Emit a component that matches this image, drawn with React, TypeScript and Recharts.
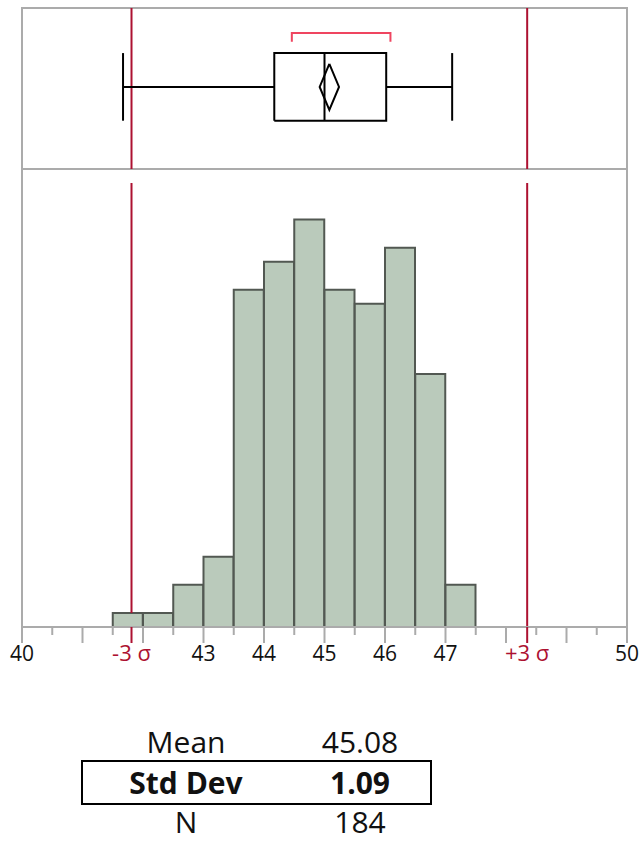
import React from "react";
import {
  ComposedChart,
  Bar,
  Line,
  XAxis,
  YAxis,
  ReferenceLine,
  ReferenceArea,
} from "recharts";

// histogram bins (start of each 0.5 wide bin) and counts
const binStarts = [
  40, 40.5, 41, 41.5, 42, 42.5, 43, 43.5, 44, 44.5,
  45, 45.5, 46, 46.5, 47, 47.5, 48, 48.5, 49, 49.5,
];
const binCounts = [0, 0, 0, 1, 1, 3, 5, 24, 26, 29, 24, 23, 27, 18, 3, 0, 0, 0, 0, 0];
const BIN_WIDTH = 0.5;

// summary statistics
const MEAN = 45.08;
const STD_DEV = 1.09;
const N = 184;

// box plot
const WHISKER_LOW = 41.67;
const Q1 = 44.17;
const MEDIAN = 45.0;
const Q3 = 46.02;
const WHISKER_HIGH = 47.11;
const MEAN_CI = [44.92, 45.24];
const SHORTEST_HALF = [44.46, 46.09];

// axis
const majorTicks = [40, 41, 42, 43, 44, 45, 46, 47, 48, 49, 50];
const minorTicks = [40.5, 41.5, 42.5, 43.5, 44.5, 45.5, 46.5, 47.5, 48.5, 49.5];
const labeledTicks = [40, 43, 44, 45, 46, 47, 50];

const SIGMA_LOW = +(MEAN - 3 * STD_DEV).toFixed(2);
const SIGMA_HIGH = +(MEAN + 3 * STD_DEV).toFixed(2);
const sigmaMarks = [
  { value: SIGMA_LOW, label: "-3 σ" },
  { value: SIGMA_HIGH, label: "+3 σ" },
];

const statRows = [
  { label: "Mean", value: MEAN.toFixed(2), bold: false },
  { label: "Std Dev", value: STD_DEV.toFixed(2), bold: true },
  { label: "N", value: String(N), bold: false },
];

const histData = binStarts.map((start, i) => ({ center: start + BIN_WIDTH / 2, count: binCounts[i] }));
const axisTicks = [...majorTicks, ...minorTicks, SIGMA_LOW, SIGMA_HIGH].sort((a, b) => a - b);

// the sigma lines run behind the bars, so stop them at the top of the bar they cross
const countAt = (v: number) => {
  const i = binStarts.findIndex((s) => v >= s && v < s + BIN_WIDTH);
  return i >= 0 ? binCounts[i] : 0;
};

const FONT = "'Open Sans', 'Noto Sans', sans-serif";
const RED = "#ad1131";
const BRACKET = "#ef4560";
const FRAME = "#ababab";
const BAR_FILL = "#bacabb";
const BAR_STROKE = "#525852";

// vertical layout of the box plot panel (0..1)
const BOX_MID = 0.51;
const BOX_LO = 0.3;
const BOX_HI = 0.72;
const DIA_LO = 0.367;
const DIA_HI = 0.653;
const BRACKET_Y = 0.845;
const BRACKET_END = 0.79;

const pt = (x: number, y: number) => ({ x, y });

const boxSegments = [
  [pt(WHISKER_LOW, BOX_MID), pt(Q1, BOX_MID)],
  [pt(Q3, BOX_MID), pt(WHISKER_HIGH, BOX_MID)],
  [pt(WHISKER_LOW, BOX_LO), pt(WHISKER_LOW, BOX_HI)],
  [pt(WHISKER_HIGH, BOX_LO), pt(WHISKER_HIGH, BOX_HI)],
  [pt(Q1, BOX_LO), pt(Q3, BOX_LO), pt(Q3, BOX_HI), pt(Q1, BOX_HI), pt(Q1, BOX_LO)],
  [pt(MEDIAN, BOX_LO), pt(MEDIAN, BOX_HI)],
  [pt(MEAN, DIA_HI), pt(MEAN_CI[1], BOX_MID), pt(MEAN, DIA_LO), pt(MEAN_CI[0], BOX_MID), pt(MEAN, DIA_HI)],
];
const bracketPoints = [
  pt(SHORTEST_HALF[0], BRACKET_END),
  pt(SHORTEST_HALF[0], BRACKET_Y),
  pt(SHORTEST_HALF[1], BRACKET_Y),
  pt(SHORTEST_HALF[1], BRACKET_END),
];

function AxisTick(props: any) {
  const { x, y, payload } = props;
  const v = payload.value as number;
  const sigma = sigmaMarks.find((s) => Math.abs(s.value - v) < 1e-6);
  if (sigma) {
    return (
      <g>
        <line x1={x} x2={x} y1={y} y2={y + 16} stroke={RED} strokeWidth={2} />
        <text x={x} y={y + 34} textAnchor="middle" fill={RED} fontSize={22} fontFamily={FONT}>
          {sigma.label}
        </text>
      </g>
    );
  }
  const major = Number.isInteger(v);
  return (
    <g>
      <line x1={x} x2={x} y1={y} y2={y + (major ? 16 : 8)} stroke={FRAME} strokeWidth={2} />
      {labeledTicks.includes(v) && (
        <text x={x} y={y + 34} textAnchor="middle" fill="#111" fontSize={21} fontFamily={FONT}>
          {v}
        </text>
      )}
    </g>
  );
}

function BoxPlot() {
  return (
    <ComposedChart width={643} height={175} margin={{ top: 8, right: 16, bottom: 6, left: 22 }}>
      <XAxis type="number" dataKey="x" domain={[40, 50]} hide allowDataOverflow />
      <YAxis type="number" dataKey="y" domain={[0, 1]} hide allowDataOverflow />
      <ReferenceArea x1={40} x2={50} y1={0} y2={1} fill="none" stroke={FRAME} strokeWidth={2} />
      <ReferenceLine x={SIGMA_LOW} stroke={RED} strokeWidth={2} />
      <ReferenceLine x={SIGMA_HIGH} stroke={RED} strokeWidth={2} />
      {boxSegments.map((seg, i) => (
        <Line
          key={i}
          data={seg}
          dataKey="y"
          type="linear"
          stroke="#000"
          strokeWidth={2}
          dot={false}
          activeDot={false}
          isAnimationActive={false}
        />
      ))}
      <Line
        data={bracketPoints}
        dataKey="y"
        type="linear"
        stroke={BRACKET}
        strokeWidth={2}
        dot={false}
        activeDot={false}
        isAnimationActive={false}
      />
    </ComposedChart>
  );
}

const COUNT_MAX = 32.6;
const SIGMA_TOP = 31.6;

function Histogram() {
  return (
    <ComposedChart width={643} height={511} data={histData} barCategoryGap={0} margin={{ top: 0, right: 16, bottom: 0, left: 22 }}>
      <XAxis
        type="number"
        dataKey="center"
        domain={[40, 50]}
        ticks={axisTicks}
        interval={0}
        height={53}
        tickSize={0}
        tickMargin={0}
        tickLine={false}
        axisLine={{ stroke: FRAME, strokeWidth: 2 }}
        tick={<AxisTick />}
        allowDataOverflow
      />
      <YAxis type="number" domain={[0, COUNT_MAX]} hide allowDataOverflow />
      <ReferenceLine x={40} stroke={FRAME} strokeWidth={2} />
      <ReferenceLine x={50} stroke={FRAME} strokeWidth={2} />
      {sigmaMarks.map((s) => (
        <ReferenceLine
          key={s.label}
          segment={[{ x: s.value, y: SIGMA_TOP }, { x: s.value, y: countAt(s.value) }]}
          stroke={RED}
          strokeWidth={2}
        />
      ))}
      <Bar dataKey="count" fill={BAR_FILL} stroke={BAR_STROKE} strokeWidth={2} isAnimationActive={false} />
    </ComposedChart>
  );
}

function StatsTable() {
  const baselines = [753, 794, 833];
  return (
    <svg width={643} height={845} style={{ position: "absolute", top: 0, left: 0 }}>
      <rect x={82} y={761} width={349} height={43} fill="none" stroke="#000" strokeWidth={2} />
      {statRows.map((r, i) => (
        <g key={r.label} fontFamily={FONT} fontSize={30} fontWeight={r.bold ? 700 : 400} fill="#111">
          <text x={186} y={baselines[i]} textAnchor="middle">{r.label}</text>
          <text x={360} y={baselines[i]} textAnchor="middle">{r.value}</text>
        </g>
      ))}
    </svg>
  );
}

export default function App() {
  return (
    <div style={{ position: "absolute", top: 0, left: 0, width: 643, height: 845, background: "#fff", fontFamily: FONT }}>
      <StatsTable />
      <div style={{ position: "absolute", top: 0, left: 0 }}>
        <BoxPlot />
      </div>
      <div style={{ position: "absolute", top: 169, left: 0 }}>
        <Histogram />
      </div>
    </div>
  );
}
